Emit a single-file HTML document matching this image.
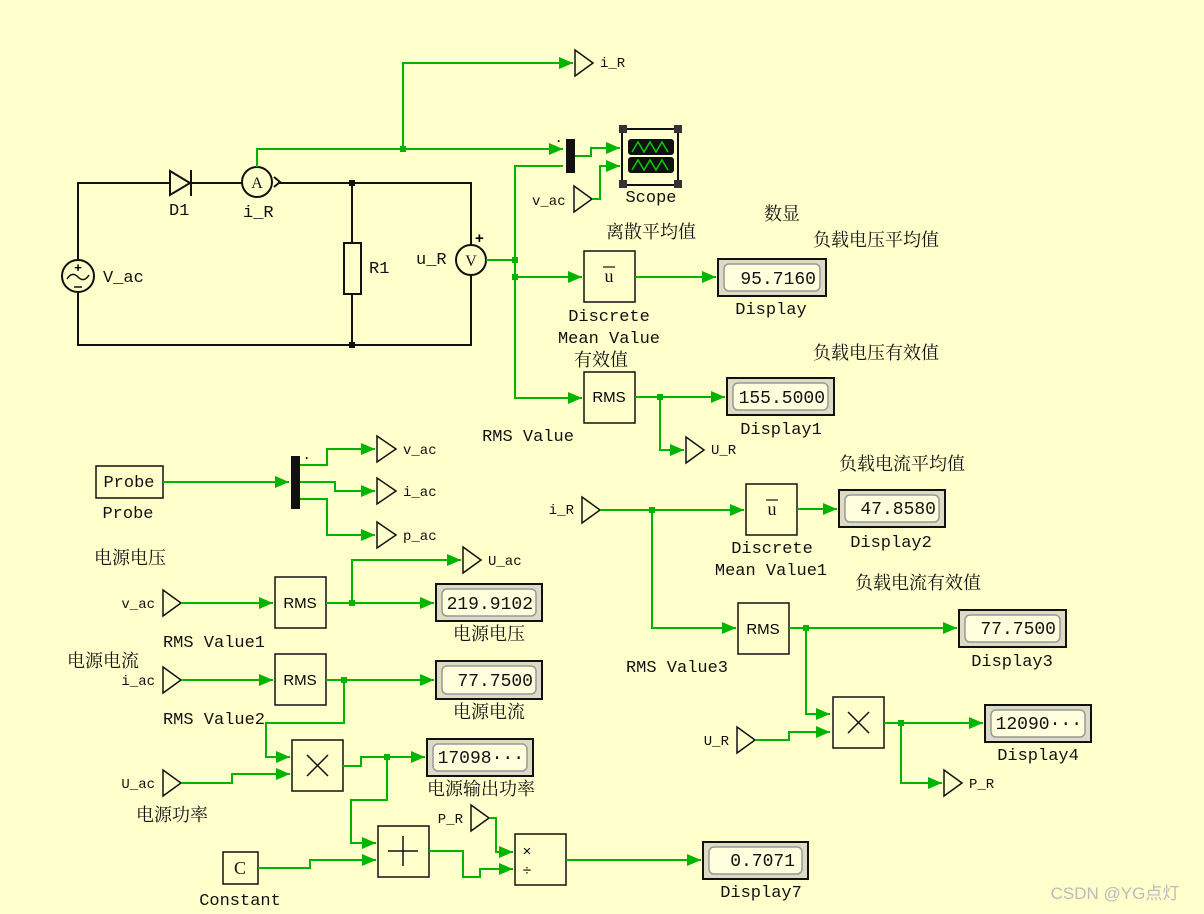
<!DOCTYPE html>
<html><head><meta charset="utf-8"><style>
body{margin:0;background:#FFFFCC;}
svg{display:block}
.t{font-family:"Liberation Mono",monospace;font-size:17px;fill:#111}
.s{font-family:"Liberation Mono",monospace;font-size:14px;fill:#111}
.c{font-family:"Liberation Serif","Noto Serif CJK SC",serif;font-size:18px;fill:#111}
.g{fill:none;stroke:#00B400;stroke-width:2}
.k{fill:none;stroke:#111;stroke-width:2}
.b{fill:#FFFFCC;stroke:#111;stroke-width:1.5}
.go{fill:#FFFFCC;stroke:#111;stroke-width:1.5}
.dv{font-family:"Liberation Mono",monospace;font-size:18px;fill:#111}
</style></head><body>
<svg width="1204" height="914" viewBox="0 0 1204 914" xmlns="http://www.w3.org/2000/svg">
<defs>
<marker id="a" markerWidth="14" markerHeight="12" refX="14" refY="6" orient="auto" markerUnits="userSpaceOnUse">
<path d="M0,0 L14,6 L0,12 Z" fill="#00B400"/></marker>
</defs>
<rect width="1204" height="914" fill="#FFFFCC"/>

<!-- circuit -->
<polyline class="k" points="170,183 78,183 78,260"/>
<polyline class="k" points="78,292 78,345 471,345 471,275"/>
<polyline class="k" points="471,245 471,183 278,183"/>
<line class="k" x1="192" y1="183" x2="242" y2="183"/>
<polygon points="170,171 190,183 170,195" fill="none" stroke="#111" stroke-width="2"/>
<line class="k" x1="191" y1="170" x2="191" y2="196"/>
<circle cx="257" cy="182" r="15" fill="#FFFFCC" stroke="#111" stroke-width="2"/>
<text x="257" y="188" class="c" text-anchor="middle" style="font-size:16px">A</text>
<polyline points="274,177 280,182 274,187" fill="none" stroke="#111" stroke-width="2"/>
<circle cx="78" cy="276" r="16" fill="#FFFFCC" stroke="#111" stroke-width="2"/>
<path d="M67,279 q5,-8 11,-2 t11,-2" fill="none" stroke="#111" stroke-width="1.5"/>
<text x="78" y="272" text-anchor="middle" style="font:bold 13px Liberation Sans">+</text>
<line x1="74" y1="287" x2="82" y2="287" stroke="#111" stroke-width="1.5"/>
<line class="k" x1="352" y1="183" x2="352" y2="345"/>
<rect x="344" y="243" width="17" height="51" fill="#FFFFCC" stroke="#111" stroke-width="2"/>
<rect x="349" y="180" width="6" height="6" fill="#111"/>
<rect x="349" y="342" width="6" height="6" fill="#111"/>
<circle cx="471" cy="260" r="15" fill="#FFFFCC" stroke="#111" stroke-width="2"/>
<text x="471" y="266" class="c" text-anchor="middle" style="font-size:16px">V</text>
<text x="475" y="243" style="font:bold 15px Liberation Sans">+</text>
<text x="169" y="215" class="t">D1</text>
<text x="243" y="217" class="t">i_R</text>
<text x="103" y="282" class="t">V_ac</text>
<text x="369" y="273" class="t">R1</text>
<text x="416" y="264" class="t">u_R</text>

<!-- top green -->
<polyline class="g" points="257,167 257,149 403,149 403,63 573,63" marker-end="url(#a)"/>
<polyline class="g" points="403,149 563,149" marker-end="url(#a)"/>
<rect x="400" y="146" width="6" height="6" fill="#00B400"/>
<polygon class="go" points="575,50 593,63 575,76"/><text x="600" y="67" class="s">i_R</text>
<polyline class="g" points="486,260 515,260"/>
<polyline class="g" points="563,166 515,166 515,398 582,398" marker-end="url(#a)"/>
<polyline class="g" points="515,277 582,277" marker-end="url(#a)"/>
<rect x="512" y="257" width="6" height="6" fill="#00B400"/>
<rect x="512" y="274" width="6" height="6" fill="#00B400"/>
<rect x="566" y="139" width="9" height="34" fill="#111"/>
<text x="557" y="145" style="font:bold 12px Liberation Sans">·</text>
<polyline class="g" points="575,156 591,156 591,148 620,148" marker-end="url(#a)"/>
<polygon class="go" points="574,186 592,199 574,212"/><text x="532" y="205" class="s">v_ac</text>
<polyline class="g" points="592,199 600,199 600,166 620,166" marker-end="url(#a)"/>
<!-- scope -->
<rect x="622" y="129" width="56" height="56" fill="#FFFFCC" stroke="#111" stroke-width="2"/>
<rect x="619" y="125" width="8" height="8" fill="#333"/><rect x="674" y="125" width="8" height="8" fill="#333"/>
<rect x="619" y="180" width="8" height="8" fill="#333"/><rect x="674" y="180" width="8" height="8" fill="#333"/>
<rect x="628" y="139" width="46" height="16" rx="3" fill="#111"/>
<rect x="628" y="157" width="46" height="16" rx="3" fill="#111"/>
<polyline points="632,152 638,142 644,152 650,142 656,152 662,142 668,152" fill="none" stroke="#00D000" stroke-width="1.5"/>
<polyline points="632,170 638,160 644,170 650,160 656,170 662,160 668,170" fill="none" stroke="#00D000" stroke-width="1.5"/>
<text x="651" y="202" class="t" text-anchor="middle">Scope</text>

<!-- mean -->
<rect x="584" y="251" width="51" height="51" class="b"/>
<text x="609" y="282" class="c" text-anchor="middle">u</text><line x1="603" y1="267" x2="615" y2="267" stroke="#111" stroke-width="1.2"/>
<polyline class="g" points="635,277 716,277" marker-end="url(#a)"/>
<text x="609" y="321" class="t" text-anchor="middle">Discrete</text>
<text x="609" y="343" class="t" text-anchor="middle">Mean Value</text>
<text x="651" y="238" class="c" text-anchor="middle">离散平均值</text>
<text x="782" y="220" class="c" text-anchor="middle">数显</text>
<text x="876" y="246" class="c" text-anchor="middle">负载电压平均值</text>
<text x="876" y="359" class="c" text-anchor="middle">负载电压有效值</text>
<text x="601" y="366" class="c" text-anchor="middle">有效值</text>
<text x="528" y="441" class="t" text-anchor="middle">RMS Value</text>
<rect x="584" y="372" width="51" height="51" class="b"/>
<text x="609" y="402" text-anchor="middle" style="font:15px Liberation Sans">RMS</text>
<polyline class="g" points="635,397 725,397" marker-end="url(#a)"/>
<polyline class="g" points="660,397 660,450 684,450" marker-end="url(#a)"/>
<rect x="657" y="394" width="6" height="6" fill="#00B400"/>
<polygon class="go" points="686,437 704,450 686,463"/><text x="711" y="454" class="s">U_R</text>

<!-- displays -->
<g>
<rect x="718" y="259" width="108" height="37" fill="#DCDCC4" stroke="#111" stroke-width="2"/><rect x="724" y="264" width="96" height="27" rx="5" fill="#FFFFDD" stroke="#999" stroke-width="1.5"/><text x="816" y="284" class="dv" text-anchor="end">95.7160</text>
<text x="771" y="314" class="t" text-anchor="middle">Display</text>
<rect x="727" y="378" width="107" height="37" fill="#DCDCC4" stroke="#111" stroke-width="2"/><rect x="733" y="383" width="95" height="27" rx="5" fill="#FFFFDD" stroke="#999" stroke-width="1.5"/><text x="825" y="403" class="dv" text-anchor="end">155.5000</text>
<text x="781" y="434" class="t" text-anchor="middle">Display1</text>
<rect x="839" y="490" width="106" height="37" fill="#DCDCC4" stroke="#111" stroke-width="2"/><rect x="845" y="495" width="94" height="27" rx="5" fill="#FFFFDD" stroke="#999" stroke-width="1.5"/><text x="936" y="514" class="dv" text-anchor="end">47.8580</text>
<text x="891" y="547" class="t" text-anchor="middle">Display2</text>
<rect x="959" y="610" width="107" height="37" fill="#DCDCC4" stroke="#111" stroke-width="2"/><rect x="965" y="615" width="95" height="27" rx="5" fill="#FFFFDD" stroke="#999" stroke-width="1.5"/><text x="1056" y="634" class="dv" text-anchor="end">77.7500</text>
<text x="1012" y="666" class="t" text-anchor="middle">Display3</text>
<rect x="985" y="705" width="106" height="37" fill="#DCDCC4" stroke="#111" stroke-width="2"/><rect x="991" y="710" width="94" height="27" rx="5" fill="#FFFFDD" stroke="#999" stroke-width="1.5"/><text x="1082" y="729" class="dv" text-anchor="end">12090···</text>
<text x="1038" y="760" class="t" text-anchor="middle">Display4</text>
<rect x="436" y="584" width="106" height="37" fill="#DCDCC4" stroke="#111" stroke-width="2"/><rect x="442" y="589" width="94" height="27" rx="5" fill="#FFFFDD" stroke="#999" stroke-width="1.5"/><text x="533" y="609" class="dv" text-anchor="end">219.9102</text>
<rect x="436" y="661" width="106" height="38" fill="#DCDCC4" stroke="#111" stroke-width="2"/><rect x="442" y="666" width="94" height="28" rx="5" fill="#FFFFDD" stroke="#999" stroke-width="1.5"/><text x="533" y="686" class="dv" text-anchor="end">77.7500</text>
<rect x="427" y="739" width="106" height="37" fill="#DCDCC4" stroke="#111" stroke-width="2"/><rect x="433" y="744" width="94" height="27" rx="5" fill="#FFFFDD" stroke="#999" stroke-width="1.5"/><text x="524" y="763" class="dv" text-anchor="end">17098···</text>
<rect x="703" y="842" width="105" height="37" fill="#DCDCC4" stroke="#111" stroke-width="2"/><rect x="709" y="847" width="93" height="27" rx="5" fill="#FFFFDD" stroke="#999" stroke-width="1.5"/><text x="795" y="866" class="dv" text-anchor="end">0.7071</text>
<text x="761" y="897" class="t" text-anchor="middle">Display7</text>
</g>

<!-- probe -->
<rect x="96" y="466" width="67" height="32" class="b"/>
<text x="129" y="487" class="t" text-anchor="middle">Probe</text>
<text x="128" y="518" class="t" text-anchor="middle">Probe</text>
<polyline class="g" points="163,482 289,482" marker-end="url(#a)"/>
<rect x="291" y="456" width="9" height="53" fill="#111"/>
<text x="305" y="462" style="font:bold 12px Liberation Sans">·</text>
<polyline class="g" points="300,465 327,465 327,449 375,449" marker-end="url(#a)"/>
<polyline class="g" points="300,482 335,482 335,491 375,491" marker-end="url(#a)"/>
<polyline class="g" points="300,499 327,499 327,535 375,535" marker-end="url(#a)"/>
<polygon class="go" points="377,436 396,449 377,462"/><text x="403" y="454" class="s">v_ac</text>
<polygon class="go" points="377,478 396,491 377,504"/><text x="403" y="496" class="s">i_ac</text>
<polygon class="go" points="377,522 396,535 377,548"/><text x="403" y="540" class="s">p_ac</text>

<!-- left bottom -->
<text x="130" y="564" class="c" text-anchor="middle">电源电压</text>
<polygon class="go" points="163,590 181,603 163,616"/><text x="155" y="608" class="s" text-anchor="end">v_ac</text>
<polyline class="g" points="181,603 273,603" marker-end="url(#a)"/>
<rect x="275" y="577" width="51" height="51" class="b"/>
<text x="300" y="608" text-anchor="middle" style="font:15px Liberation Sans">RMS</text>
<polyline class="g" points="326,603 434,603" marker-end="url(#a)"/>
<polyline class="g" points="352,603 352,560 461,560" marker-end="url(#a)"/>
<rect x="349" y="600" width="6" height="6" fill="#00B400"/>
<polygon class="go" points="463,547 481,560 463,573"/><text x="488" y="565" class="s">U_ac</text>
<text x="214" y="647" class="t" text-anchor="middle">RMS Value1</text>
<text x="489" y="640" class="c" text-anchor="middle">电源电压</text>
<text x="103" y="667" class="c" text-anchor="middle">电源电流</text>
<polygon class="go" points="163,667 181,680 163,693"/><text x="155" y="685" class="s" text-anchor="end">i_ac</text>
<polyline class="g" points="181,680 273,680" marker-end="url(#a)"/>
<rect x="275" y="654" width="51" height="51" class="b"/>
<text x="300" y="685" text-anchor="middle" style="font:15px Liberation Sans">RMS</text>
<polyline class="g" points="326,680 434,680" marker-end="url(#a)"/>
<rect x="341" y="677" width="6" height="6" fill="#00B400"/>
<text x="214" y="724" class="t" text-anchor="middle">RMS Value2</text>
<text x="489" y="718" class="c" text-anchor="middle">电源电流</text>
<polyline class="g" points="344,680 344,723 266,723 266,757 290,757" marker-end="url(#a)"/>
<polygon class="go" points="163,770 181,783 163,796"/><text x="155" y="788" class="s" text-anchor="end">U_ac</text>
<polyline class="g" points="181,783 232,783 232,774 290,774" marker-end="url(#a)"/>
<rect x="292" y="740" width="51" height="51" class="b"/>
<path d="M307,755 L328,776 M328,755 L307,776" stroke="#111" stroke-width="1.5"/>
<text x="172" y="821" class="c" text-anchor="middle">电源功率</text>
<polyline class="g" points="343,766 361,766 361,757 425,757" marker-end="url(#a)"/>
<rect x="384" y="754" width="6" height="6" fill="#00B400"/>
<text x="481" y="795" class="c" text-anchor="middle">电源输出功率</text>
<polyline class="g" points="387,757 387,800 351,800 351,843 376,843" marker-end="url(#a)"/>
<rect x="378" y="826" width="51" height="51" class="b"/>
<path d="M403,836 L403,866 M388,851 L418,851" stroke="#111" stroke-width="1.5"/>
<rect x="223" y="852" width="35" height="32" class="b"/>
<text x="240" y="874" class="c" text-anchor="middle">C</text>
<text x="240" y="905" class="t" text-anchor="middle">Constant</text>
<polyline class="g" points="258,868 310,868 310,860 376,860" marker-end="url(#a)"/>
<polyline class="g" points="429,851 463,851 463,877 480,877 480,869 513,869" marker-end="url(#a)"/>
<polygon class="go" points="471,805 489,818 471,831"/><text x="463" y="823" class="s" text-anchor="end">P_R</text>
<polyline class="g" points="489,818 496,818 496,852 513,852" marker-end="url(#a)"/>
<rect x="515" y="834" width="51" height="51" class="b"/>
<text x="527" y="856" text-anchor="middle" style="font:15px Liberation Sans">×</text>
<text x="527" y="875" text-anchor="middle" style="font:15px Liberation Sans">÷</text>
<polyline class="g" points="566,860 701,860" marker-end="url(#a)"/>

<!-- right middle -->
<text x="902" y="470" class="c" text-anchor="middle">负载电流平均值</text>
<polygon class="go" points="582,497 600,510 582,523"/><text x="574" y="514" class="s" text-anchor="end">i_R</text>
<polyline class="g" points="600,510 744,510" marker-end="url(#a)"/>
<rect x="649" y="507" width="6" height="6" fill="#00B400"/>
<rect x="746" y="484" width="51" height="51" class="b"/>
<text x="772" y="515" class="c" text-anchor="middle">u</text><line x1="766" y1="500" x2="778" y2="500" stroke="#111" stroke-width="1.2"/>
<polyline class="g" points="797,509 837,509" marker-end="url(#a)"/>
<text x="772" y="553" class="t" text-anchor="middle">Discrete</text>
<text x="771" y="575" class="t" text-anchor="middle">Mean Value1</text>
<polyline class="g" points="652,510 652,628 736,628" marker-end="url(#a)"/>
<text x="918" y="589" class="c" text-anchor="middle">负载电流有效值</text>
<rect x="738" y="603" width="51" height="51" class="b"/>
<text x="763" y="634" text-anchor="middle" style="font:15px Liberation Sans">RMS</text>
<polyline class="g" points="789,628 957,628" marker-end="url(#a)"/>
<rect x="803" y="625" width="6" height="6" fill="#00B400"/>
<text x="677" y="672" class="t" text-anchor="middle">RMS Value3</text>
<polyline class="g" points="806,628 806,714 830,714" marker-end="url(#a)"/>
<polygon class="go" points="737,727 755,740 737,753"/><text x="729" y="745" class="s" text-anchor="end">U_R</text>
<polyline class="g" points="755,740 789,740 789,732 830,732" marker-end="url(#a)"/>
<rect x="833" y="697" width="51" height="51" class="b"/>
<path d="M848,712 L869,733 M869,712 L848,733" stroke="#111" stroke-width="1.5"/>
<polyline class="g" points="884,723 983,723" marker-end="url(#a)"/>
<rect x="898" y="720" width="6" height="6" fill="#00B400"/>
<polyline class="g" points="901,723 901,783 942,783" marker-end="url(#a)"/>
<polygon class="go" points="944,770 962,783 944,796"/><text x="969" y="788" class="s">P_R</text>

<text x="1115" y="899" text-anchor="middle" style="font:17px 'Liberation Sans','Noto Sans CJK SC',sans-serif;fill:#bbb">CSDN @YG点灯</text>
</svg>
</body></html>
